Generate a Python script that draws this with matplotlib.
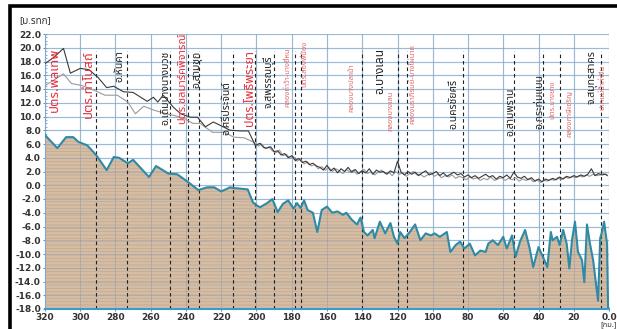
import matplotlib
matplotlib.use("Agg")
import matplotlib.pyplot as plt
from matplotlib import font_manager
from matplotlib.ft2font import FT2Font
from matplotlib.patches import Rectangle
from matplotlib.ticker import MultipleLocator, FixedLocator, FixedFormatter

# ---------------------------------------------------------------- data
# River-bed profile (chainage km, bed elevation m MSL)
bed_km = [320, 313, 308, 304, 301, 296, 291, 285, 281, 278, 273, 270, 261, 257,
          250, 245, 239, 233, 228, 224, 220, 215, 213, 205, 202, 200, 198, 194,
          191, 188, 185, 182, 179, 177, 175, 173, 171, 168, 165.5, 163, 160, 157,
          154, 151, 149, 146, 143, 141, 139, 137, 134, 133, 130, 127, 124, 122,
          120, 118.5, 116, 113, 110, 107, 104, 101, 99, 96, 92, 90, 87, 84.5, 82,
          79, 76, 73, 70, 68.5, 66, 63, 60, 58, 55, 53, 50.5, 47.6, 45, 43, 40, 37,
          35, 33, 32, 29.5, 28, 26, 24, 22.5, 21, 19.3, 17.6, 15.3, 14, 12.5, 10.8,
          9, 6.2, 5, 4, 2.8, 1.1, 0.5]
bed_elev = [7.3, 5.4, 7.0, 7.0, 6.3, 5.8, 4.4, 2.2, 4.1, 4.0, 3.2, 3.7, 1.2, 2.8,
            1.7, 1.6, 0.5, -0.7, -0.3, -0.3, -0.9, -0.3, -0.4, -0.6, -2.5, -2.9,
            -3.2, -2.6, -2.0, -3.9, -2.7, -2.2, -3.4, -2.6, -3.3, -2.2, -3.6, -4.0,
            -6.8, -3.6, -3.1, -4.0, -3.8, -4.3, -4.0, -5.0, -5.7, -4.7, -6.8, -7.3,
            -6.5, -7.7, -5.3, -7.0, -5.5, -7.5, -8.5, -6.8, -7.7, -6.8, -5.7, -8.0,
            -7.0, -7.3, -7.0, -7.5, -6.8, -9.7, -8.7, -8.2, -9.2, -8.5, -10.2, -9.5,
            -9.7, -8.5, -8.0, -8.7, -7.5, -9.2, -7.3, -10.4, -8.2, -6.5, -9.2, -11.9,
            -9.0, -10.7, -11.9, -6.8, -8.0, -7.5, -8.7, -6.5, -8.5, -12.1, -8.0,
            -5.3, -9.7, -10.9, -14.1, -5.7, -8.5, -10.9, -16.8, -7.7, -6.8, -5.3,
            -8.5, -18.0]

# Water surface, series 1 (dark)
wl1_km = [320, 315, 309.5, 305.6, 300, 295, 290, 285, 281, 275.5, 270, 262, 258.5,
          256, 253, 247, 243, 237.5, 233.5, 229, 224.5, 220.5, 215, 209, 204.6,
          200.7, 198, 196, 194, 192, 190, 188, 186, 184, 182, 180, 178, 176, 174,
          172, 170, 168, 166, 164, 162, 160, 158, 156, 154, 152, 150, 148, 146, 144,
          142, 140, 138, 136, 134, 132, 130, 128, 126, 124, 122, 120, 118, 116, 114,
          112, 110, 108, 106, 104, 102, 100, 98, 96, 94, 92, 90, 88, 86, 84, 82, 80,
          78, 76, 74, 72, 70, 68, 66, 64, 62, 60, 58, 56, 54, 52, 50, 48, 46, 44, 42,
          40, 38, 36, 34, 32, 30, 28, 26, 24, 22, 20, 18, 16, 14, 12, 10, 8, 6, 4, 2, 1]
wl1 = [17.7, 18.6, 19.9, 16.3, 17.0, 16.8, 15.7, 14.2, 14.4, 13.6, 13.5, 12.2, 12.8,
       12.1, 13.1, 11.3, 10.4, 9.9, 9.9, 8.5, 9.2, 8.7, 8.0, 7.9, 7.9,
       5.8, 6.1, 5.5, 5.4, 5.6, 4.9, 5.0, 4.4, 4.6, 4.0, 4.3, 3.6, 3.9, 3.3,
       3.5, 3.0, 3.2, 2.8, 2.6, 2.2, 2.9, 2.1, 2.5, 1.8, 2.4, 2.0, 2.6, 1.9, 2.3,
       1.7, 2.1, 1.8, 2.4, 1.6, 2.2, 1.9, 2.0, 1.6, 2.1, 1.8, 3.5, 1.9, 1.5, 2.0,
       1.6, 1.9, 1.4, 1.8, 2.1, 1.5, 1.7, 2.0, 1.4, 1.8, 1.3, 1.6, 1.9, 1.5, 1.7, 1.2, 1.5,
       1.1, 1.4, 1.0, 1.3, 1.6, 1.2, 1.4, 0.9, 1.3, 1.1, 1.5, 1.0, 1.9, 1.2, 1.0, 1.3, 0.8, 1.1, 0.6,
       0.9, 0.5, 0.9, 0.7, 1.0, 0.8, 1.2, 0.9, 1.3, 1.1, 1.4, 1.2, 1.5, 1.3, 1.6, 2.4, 1.4, 1.7, 1.5, 1.6, 1.4]

# Water surface, series 2 (light)
wl2_km = [320, 315, 309.5, 305, 299, 292, 286, 279, 273, 268.7, 264, 258, 251,
          246, 241, 236, 232, 225, 218, 213, 207, 201, 199, 197, 195, 193, 191, 189,
          187, 185, 183, 181, 179, 177, 175, 173, 171, 169, 167, 165, 163, 161, 159,
          157, 155, 153, 151, 149, 147, 145, 143, 141, 139, 137, 135, 133, 131, 129,
          127, 125, 123, 121, 119, 117, 115, 113, 111, 109, 107, 105, 103, 101, 99,
          97, 95, 93, 91, 89, 87, 85, 83, 81, 79, 77, 75, 73, 71, 69, 67, 65, 63, 61,
          59, 57, 55, 53, 51, 49, 47, 45, 43, 41, 39, 37, 35, 33, 31, 29, 27, 25, 23,
          21, 19, 17, 15, 13, 11, 9, 7, 5, 3, 1]
wl2 = [14.5, 15.3, 16.2, 14.8, 14.5, 13.8, 13.1, 13.1, 12.1, 10.4, 11.5, 10.9, 10.4,
       10.1, 9.7, 9.0, 9.0, 7.7, 7.7, 7.0, 6.9, 6.2, 5.7, 6.0, 5.3, 5.6, 5.0, 4.7,
       5.1, 4.3, 4.5, 3.9, 4.2, 3.5, 3.8, 3.1, 3.4, 2.8, 3.0, 2.4, 2.7, 2.2, 2.6,
       2.0, 2.4, 2.1, 1.7, 2.3, 1.9, 2.2, 1.6, 2.0, 2.3, 1.7, 2.0, 1.5, 1.9, 2.2,
       1.7, 1.9, 1.4, 2.0, 1.6, 1.8, 1.3, 1.7, 2.0, 1.5, 1.6, 1.2, 1.5, 1.8, 1.3,
       1.6, 1.1, 1.4, 1.2, 1.5, 1.0, 1.3, 1.1, 0.8, 1.2, 0.9, 1.1, 0.7, 1.0, 0.8, 1.2, 0.7, 0.9, 1.1,
       0.7, 1.0, 0.8, 1.1, 0.6, 0.9, 0.7, 1.0, 0.5, 0.8, 0.4, 0.7, 0.6, 0.9, 0.7, 1.1, 0.8, 1.2, 1.0,
       1.3, 1.1, 1.4, 1.2, 1.5, 1.3, 1.6, 1.4, 1.5, 1.7, 1.5]

# Structures / districts along the river: (km, name, colour, size, top of text in m)
station_km = [314.6, 295.4, 277.8, 251.7, 242.0, 234.0, 217.0, 204.0, 193.0, 182.0,
              172.3, 145.7, 130.0, 124.0, 111.0, 88.0, 55.5, 39.7, 32.0, 22.0, 9.6, 3.4]
station_name = ["ปตร.พลเทพ", "ปตร.ท่าโบสถ์", "อ.หันคา", "อ.เดิมบางนางบวช",
                "ปตร.ชลมาร์คพิจารณ์", "อ.สามชุก", "อ.ศรีประจันต์", "ปตร.โพธิ์พระยา",
                "จ.สุพรรณบุรี", "คลองท่าว้า-บางยี่หน", "ปตร.สองพี่น้อง",
                "คลองบางปลาม้า", "อ.บางเลน", "คลองบางเลน", "คลองนราภิรมย์-บางไผ่นาถ",
                "อ.นครชัยศรี", "อ.สามพราน", "อ.กระทุ่มแบน", "ปตร.บางยาง",
                "คลองภาษีเจริญ", "จ.สมุทรสาคร", "ปากแม่น้ำท่าจีน"]
station_color = ["red", "red", "black", "black", "red", "black", "black", "red",
                 "black", "pink", "pink", "pink", "black", "pink", "pink", "black",
                 "black", "black", "pink", "pink", "black", "pink"]
station_size = [9.5, 9.5, 7.5, 7.5, 8, 7.5, 7.5, 9, 7.5, 5.5, 5.5, 5.5, 8.5, 5.5, 5.5,
                7.5, 7.5, 7.5, 5.5, 5.5, 7.5, 5.5]
station_top = [20.0, 19.6, 19.6, 19.6, 22.2, 19.6, 15.2, 19.6, 18.9, 20.0, 21.0,
               17.7, 20.0, 13.8, 20.6, 15.5, 14.2, 16.2, 15.2, 13.8, 19.6, 17.5]

# Dashed cross-section markers (km)
marker_km = [290.8, 273.2, 248.9, 238.7, 232.4, 213.2, 201.0, 189.9, 178.0, 174.6,
             140.0, 120.0, 114.5, 83.0, 54.0, 37.4, 27.8, 4.5]

x_ticks = [320, 300, 280, 260, 240, 220, 200, 180, 160, 140, 120, 100, 80, 60, 40, 20, 0]
x_tick_labels = ["320", "300", "280", "260", "240", "220", "200", "180", "160",
                 "140", "120", "100", "80", "60", "40", "20", "0.0"]
y_ticks = [22, 20, 18, 16, 14, 12, 10, 8, 6, 4, 2, 0, -2, -4, -6, -8, -10, -12,
           -14, -16, -18]


# ---------------------------------------------------------------- fonts
def thai_family():
    """Return the first installed font family that covers Thai script."""
    preferred = ["Noto Sans Thai", "Tahoma", "Loma", "Garuda", "Norasi",
                 "Noto Sans", "DejaVu Sans", "Liberation Sans"]
    found = {}
    for f in font_manager.fontManager.ttflist:
        try:
            cmap = FT2Font(f.fname).get_charmap()
        except Exception:
            continue
        if 0x0E01 in cmap and 0x0E17 in cmap and 0x0E34 in cmap:
            found.setdefault(f.name, f.fname)
    for name in preferred:
        if name in found:
            return name
    if found:
        return sorted(found)[0]
    return "DejaVu Sans"


THAI = thai_family()
plt.rcParams["font.family"] = [THAI, "DejaVu Sans"]

# ---------------------------------------------------------------- figure
W, H = 617, 329
fig = plt.figure(figsize=(W / 100, H / 100), dpi=100, facecolor="white")

# outer black frame (only top and left edges fall inside the canvas)
fig.patches.append(Rectangle((9.5 / W, -0.2), 1.2, 1.2 - 6.0 / H,
                             transform=fig.transFigure, fill=False,
                             edgecolor="black", linewidth=2.6, zorder=0))

ax = fig.add_axes([45 / W, 20 / H, 564 / W, 275 / H])
ax.set_facecolor("white")
ax.set_xlim(320, 0)
ax.set_ylim(-18, 22)

grid_col = "#a9d0f2"
for yv in y_ticks:
    ax.axhline(yv, color=grid_col, lw=0.9, zorder=1)
for xv in x_ticks:
    ax.axvline(xv, color=grid_col, lw=0.9, zorder=1)

# river bed
plt.rcParams["hatch.linewidth"] = 0.35
ax.fill_between(bed_km, bed_elev, -18, facecolor="#d4bca5", edgecolor="#bba185",
                hatch="-----", lw=0, zorder=2)
for yv in y_ticks:
    ax.axhline(yv, color="#8aa2b8", lw=0.6, alpha=0.55, zorder=2.5)
for xv in x_ticks:
    ax.axvline(xv, color="#8f9aa4", lw=0.6, alpha=0.55, zorder=2.5)
ax.plot(bed_km, bed_elev, color="#2f8aa6", lw=1.5, zorder=4)
ax.axhline(-18, color="#3a9ccc", lw=2.0, zorder=4)

# water surfaces
ax.plot(wl2_km, wl2, color="#9a9a9a", lw=0.8, zorder=5)
ax.plot(wl1_km, wl1, color="#3a3a3a", lw=0.8, zorder=6)

# dashed markers
for xv in marker_km:
    ax.plot([xv, xv], [-18, 19.6], color="#222222", lw=0.8,
            dashes=(3.2, 2.6), zorder=3)

# station names
col_map = {"red": "#e8303a", "pink": "#e06a6a", "black": "#222222"}
for xk, name, c, s, top in zip(station_km, station_name, station_color,
                               station_size, station_top):
    ax.text(xk, top, name, rotation=90, ha="center", va="top", color=col_map[c],
            fontsize=s, zorder=7)

# ticks
ax.xaxis.set_major_locator(FixedLocator(x_ticks))
ax.xaxis.set_major_formatter(FixedFormatter(x_tick_labels))
ax.xaxis.set_minor_locator(MultipleLocator(2))
ax.yaxis.set_major_locator(FixedLocator(y_ticks))
ax.yaxis.set_major_formatter(FixedFormatter([f"{v:.1f}" for v in y_ticks]))
ax.yaxis.set_minor_locator(MultipleLocator(0.5))
ax.tick_params(axis="both", which="major", labelsize=6.5, colors="#5a8fbf",
               labelcolor="#333333", length=3, width=0.7, direction="inout", pad=1.5)
ax.tick_params(axis="both", which="minor", colors="#5a8fbf", length=1.5,
               width=0.5, direction="in")
for lab in ax.get_xticklabels() + ax.get_yticklabels():
    lab.set_fontweight("bold")
    lab.set_family("DejaVu Sans")

for side in ["top", "right"]:
    ax.spines[side].set_visible(False)
ax.spines["left"].set_color("#7fa9cf")
ax.spines["left"].set_linewidth(0.8)
ax.spines["bottom"].set_color("#3a9ccc")
ax.spines["bottom"].set_linewidth(1.5)

fig.text(19 / W, 1 - 21 / H, "[ม.รทก]", fontsize=7, color="#333333",
         fontweight="bold", va="center", ha="left")
fig.text(600 / W, 1 - 325 / H, "[กม.]", fontsize=5.5, color="#333333",
         va="center", ha="left")

fig.savefig("out.png", dpi=100, facecolor="white")
